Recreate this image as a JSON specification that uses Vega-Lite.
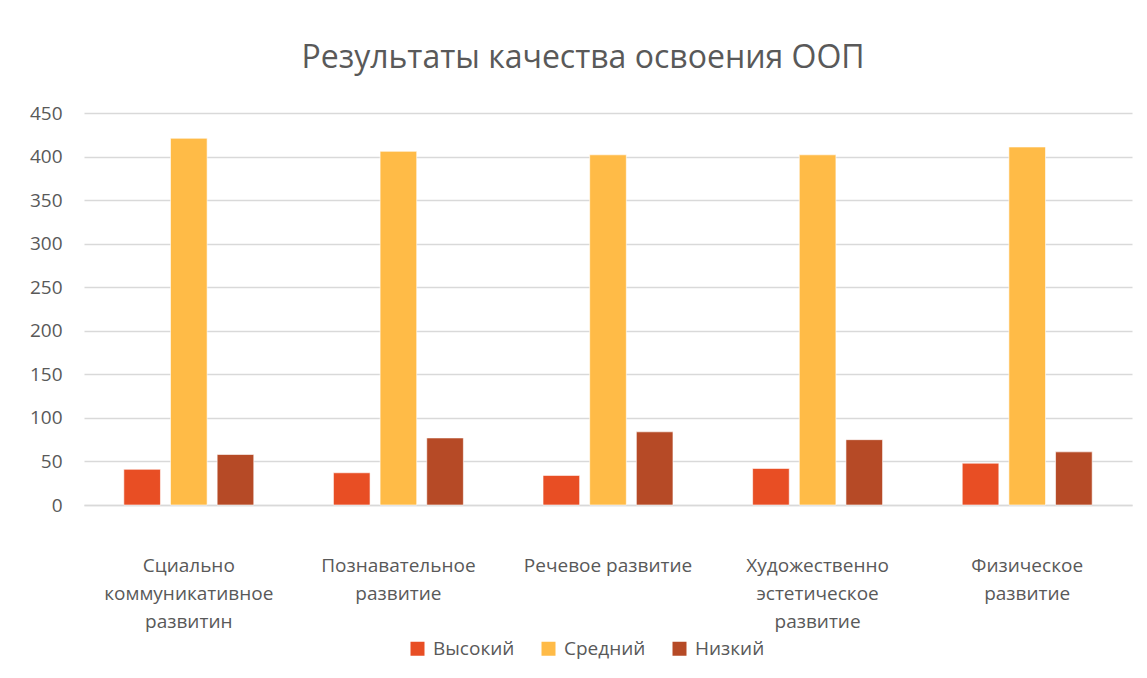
{
  "$schema": "https://vega.github.io/schema/vega-lite/v6.json",
  "autosize": {"type": "none"},
  "width": 1048,
  "height": 392,
  "padding": {"left": 84, "top": 113, "right": 15, "bottom": 173},
  "background": "white",
  "title": {
    "text": "Результаты качества освоения ООП",
    "fontSize": 32,
    "font": "Open Sans",
    "fontWeight": "normal",
    "color": "#595959",
    "anchor": "middle",
    "dx": -25,
    "offset": 29
  },
  "data": {
    "values": [
      {"category": "Сциально коммуникативное развитин", "level": "Высокий", "value": 41},
      {"category": "Сциально коммуникативное развитин", "level": "Средний", "value": 421},
      {"category": "Сциально коммуникативное развитин", "level": "Низкий", "value": 58},
      {"category": "Познавательное развитие", "level": "Высокий", "value": 37},
      {"category": "Познавательное развитие", "level": "Средний", "value": 406},
      {"category": "Познавательное развитие", "level": "Низкий", "value": 77},
      {"category": "Речевое развитие", "level": "Высокий", "value": 34},
      {"category": "Речевое развитие", "level": "Средний", "value": 402},
      {"category": "Речевое развитие", "level": "Низкий", "value": 84},
      {"category": "Художественно эстетическое развитие", "level": "Высокий", "value": 42},
      {"category": "Художественно эстетическое развитие", "level": "Средний", "value": 402},
      {"category": "Художественно эстетическое развитие", "level": "Низкий", "value": 75},
      {"category": "Физическое развитие", "level": "Высокий", "value": 48},
      {"category": "Физическое развитие", "level": "Средний", "value": 411},
      {"category": "Физическое развитие", "level": "Низкий", "value": 61}
    ]
  },
  "mark": {"type": "bar", "stroke": "white", "strokeWidth": 1, "strokeOpacity": 0.6},
  "encoding": {
    "x": {
      "field": "category",
      "type": "nominal",
      "sort": null,
      "scale": {"paddingInner": 0.38, "paddingOuter": 0.19},
      "axis": {
        "title": null,
        "labelAngle": 0,
        "labelFont": "Open Sans",
        "labelFontSize": 19,
        "labelColor": "#595959",
        "labelLineHeight": 28,
        "labelPadding": 51,
        "labelLimit": 300,
        "labelExpr": "datum.label == 'Речевое развитие' ? datum.label : split(datum.label, ' ')",
        "ticks": false,
        "domain": true,
        "domainColor": "#d9d9d9",
        "domainWidth": 1.5
      }
    },
    "xOffset": {
      "field": "level",
      "type": "nominal",
      "sort": ["Высокий", "Средний", "Низкий"],
      "scale": {"paddingInner": 0.215, "paddingOuter": 0}
    },
    "y": {
      "field": "value",
      "type": "quantitative",
      "scale": {"domain": [0, 450]},
      "axis": {
        "title": null,
        "values": [0, 50, 100, 150, 200, 250, 300, 350, 400, 450],
        "labelFont": "Open Sans",
        "labelFontSize": 19,
        "labelColor": "#595959",
        "labelPadding": 22,
        "ticks": false,
        "domain": false,
        "gridColor": "#d9d9d9",
        "gridWidth": 1.5
      }
    },
    "color": {
      "field": "level",
      "type": "nominal",
      "sort": ["Высокий", "Средний", "Низкий"],
      "scale": {"domain": ["Высокий", "Средний", "Низкий"], "range": ["#E84E24", "#FFBB47", "#B64A26"]},
      "legend": {
        "title": null,
        "orient": "none",
        "legendX": 324,
        "legendY": 526,
        "direction": "horizontal",
        "symbolType": "square",
        "symbolSize": 196,
        "symbolStrokeWidth": 0,
        "labelFont": "Open Sans",
        "labelFontSize": 19,
        "labelColor": "#595959",
        "labelOffset": 6,
        "columnPadding": 24
      }
    }
  },
  "config": {"view": {"stroke": null}}
}
